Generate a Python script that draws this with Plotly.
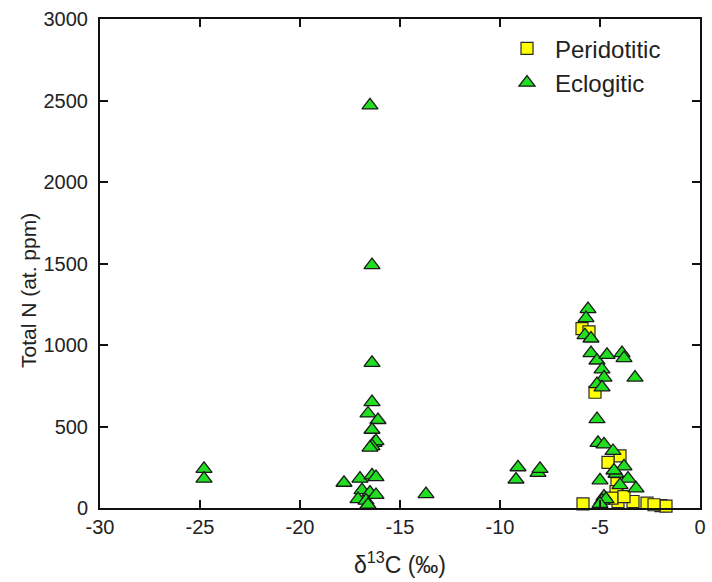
import plotly.graph_objects as go

# delta 13C (per mil) and total nitrogen (at. ppm) for each diamond group
peri_d13c = [-5.9, -5.55, -5.25, -4.0, -4.6, -4.15, -4.2, -5.85, -4.1, -3.35,
             -2.65, -1.95, -1.7, -4.4, -3.8, -2.3]
peri_n = [1100, 1080, 710, 320, 280, 150, 100, 25, 40, 40,
          30, 15, 12, 60, 70, 20]

eclo_d13c = [-24.8, -24.8,
             -16.5, -16.4, -16.4, -16.4, -16.6, -16.1, -16.4, -16.3, -16.2, -16.4, -16.5,
             -17.8, -17.0, -16.4, -16.2, -16.9, -16.5, -16.2, -17.1, -16.7, -16.6,
             -13.7,
             -9.1, -9.2, -8.1, -8.0,
             -5.6, -5.7, -5.75, -5.45, -5.45, -5.15, -4.65, -3.9, -3.8, -3.25,
             -4.9, -4.8, -5.15, -4.9, -5.15, -5.1, -4.8, -4.35, -3.8, -4.2,
             -4.3, -3.6, -5.0, -3.2, -4.0, -4.8, -4.9, -4.7, -5.0]
eclo_n = [240, 180,
          2470, 1490, 890, 650, 580, 540, 480, 400, 410, 380, 370,
          155, 180, 200, 190, 110, 95, 80, 55, 45, 20,
          85,
          250, 175, 215, 240,
          1220, 1165, 1060, 1040, 950, 905, 940, 950, 920, 800,
          850, 800, 760, 740, 545, 400, 390, 350, 255, 210,
          230, 180, 170, 120, 140, 70, 45, 55, 25]

x_ticks = [-30, -25, -20, -15, -10, -5, 0]
y_ticks = [0, 500, 1000, 1500, 2000, 2500, 3000]

FONT = "Liberation Sans, Arial, sans-serif"

fig = go.Figure()
fig.add_trace(go.Scatter(
    x=peri_d13c, y=peri_n, mode="markers", name="Peridotitic",
    marker=dict(symbol="square", size=12, color="#ffff00",
                line=dict(color="#2a2a2a", width=1.2)),
    cliponaxis=False,
))
fig.add_trace(go.Scatter(
    x=eclo_d13c, y=eclo_n, mode="markers", name="Eclogitic",
    marker=dict(symbol="triangle-up", size=14, color="#22dd22",
                line=dict(color="#1a1a1a", width=1.3)),
    cliponaxis=False,
))

axis_common = dict(
    showgrid=False, zeroline=False, showline=True, linecolor="#111",
    linewidth=2, mirror="ticks", ticks="inside", ticklen=8, tickwidth=1.5,
    tickcolor="#111", tickfont=dict(family=FONT, size=20, color="#222"),
)

fig.update_layout(
    width=712, height=582,
    margin=dict(l=100, r=6, t=19, b=74),
    paper_bgcolor="white", plot_bgcolor="white",
    font=dict(family=FONT, color="#222"),
    xaxis=dict(range=[-30, 0], tickvals=x_ticks, ticktext=[str(v) for v in x_ticks],
               title=dict(text="δ<sup>13</sup>C (‰)", font=dict(size=23), standoff=20),
               **axis_common),
    yaxis=dict(range=[0, 3000], tickvals=y_ticks, ticktext=[str(v) for v in y_ticks],
               ticklabelstandoff=6, **axis_common),
    legend=dict(x=0.665, y=0.985, xanchor="left", yanchor="top",
                bgcolor="rgba(0,0,0,0)", borderwidth=0,
                font=dict(family=FONT, size=24, color="#222"),
                itemwidth=46, tracegroupgap=0),
    showlegend=True,
    annotations=[dict(
        text="Total N (at. ppm)", textangle=-90, showarrow=False,
        xref="paper", yref="paper", x=-0.119, y=0.445,
        xanchor="center", yanchor="middle",
        font=dict(family=FONT, size=21, color="#222"),
    )],
)

fig.write_html("out.html")
